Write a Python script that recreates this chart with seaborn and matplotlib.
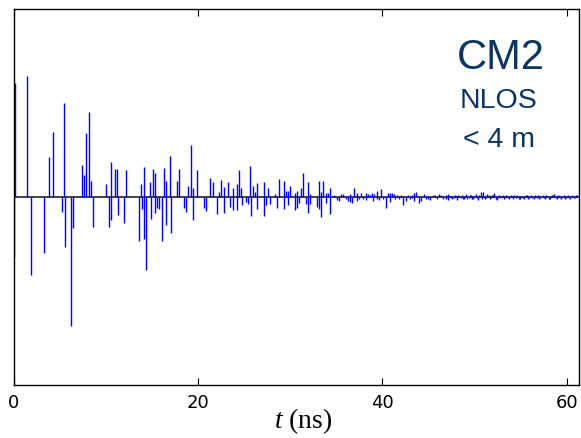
import numpy as np
import pandas as pd
import matplotlib
matplotlib.use("Agg")
import matplotlib.pyplot as plt
import seaborn as sns

# Impulse response: arrival times (ns) and amplitudes (arbitrary units)
times_early = [0.00, 0.14, 1.41, 1.91, 3.32, 3.80, 4.30, 5.24, 5.49, 5.52, 6.18, 6.43,
               7.38, 7.66, 7.88, 8.14, 8.35, 8.60, 10.05, 10.31, 10.52, 10.55, 11.02,
               11.24, 11.27, 11.97, 12.22, 13.63, 13.84, 13.87, 14.10, 14.13, 14.35,
               14.82, 14.85, 15.08, 15.33, 15.36, 15.58, 15.80, 16.06, 16.31, 16.52,
               16.55, 16.99, 17.02, 17.72, 17.97, 18.44, 18.69, 18.94, 19.20, 19.42,
               19.45, 19.89]
amps_early = [-60, 114, 121, -78, -56, 40, 65, -15, 94, -50, -129, -31,
              32, 22, 64, 85, 16, -30, 13, -30, 35, -23, 28,
              28, -18, -26, 27, -44, 13, -12, 30, -42, -73,
              15, -22, 28, 24, -16, -11, -12, -44, 29, 16,
              -28, 41, -36, 16, 28, -11, -15, 11, 52, 9,
              -23, 27]

times_mid = [20.65, 20.86, 21.33, 21.59, 22.06, 22.31, 22.52, 22.78, 22.81, 23.28,
             23.50, 23.76, 23.79, 24.23, 24.26, 24.48, 24.69, 24.72, 25.20, 25.42,
             25.67, 25.70, 25.93, 26.14, 26.40, 26.43, 27.12, 27.15, 27.34, 27.59,
             27.84, 28.32, 28.57, 28.78, 29.29, 29.32, 29.51, 29.76, 29.79, 29.98,
             30.49, 30.52, 30.74, 30.77, 30.95, 31.20, 31.42, 31.68, 31.90, 31.93,
             32.15, 32.18, 32.87, 33.09, 33.12, 33.34, 33.37, 33.59, 33.85, 33.88,
             34.10, 34.32, 34.35]
amps_mid = [-11, -14, 19, 15, -17, 5, 17, 10, -16, 15,
            -10, 9, -13, 13, -13, 27, 9, -8, -5, -7,
            31, -19, 11, 5, 14, -12, 15, -19, -8, 9,
            -7, 3, -11, 18, 16, -12, 6, 6, -8, 11,
            4, -13, 6, -11, -6, 9, 24, -7, 15, -16,
            3, -7, -10, 16, -12, 5, -20, 16, 4, -6,
            4, 9, -17]

times_late = [34.80, 35.05, 35.29, 35.51, 35.76, 36.00, 36.24, 36.49, 36.52, 36.74,
              36.95, 37.21, 37.24, 37.46, 37.68, 37.93, 38.19, 38.22, 38.41, 38.65,
              38.91, 38.94, 39.13, 39.38, 39.41, 39.62, 39.85, 40.10, 40.36, 40.58,
              40.83, 40.86, 41.08, 41.29, 41.32, 41.55, 41.80, 41.83, 42.05, 42.27,
              42.53, 42.78, 43.00, 43.18, 43.21, 43.43, 43.46, 43.68, 43.97, 44.22,
              44.48, 44.72, 44.95, 44.98, 45.20, 45.45, 45.68, 45.92, 46.15, 46.39,
              46.62, 46.87, 46.90, 47.09, 47.12, 47.34]
amps_late = [2, -3, -4, 3, 3, -2, -4, 3, -5, -6,
             9, 4, -4, -2, 4, -2, 4, -3, 3, 2,
             4, -4, 3, 6, -2, -3, 8, -2, -11, 4,
             4, -5, 4, 3, -2, 2, 1, -2, 2, -8,
             -4, 2, -2, 2, -1, 4, -4, 5, -6, -4,
             3, -2, 1, -2, -3, 2, 2, -2, 3, 2,
             -2, 2, -2, 3, -3, 1]

times_tail = [47.48, 47.60, 47.73, 47.85, 47.98, 48.10, 48.23, 48.35, 48.48, 48.60,
              48.73, 48.85, 48.98, 49.10, 49.23, 49.35, 49.48, 49.60, 49.73, 49.85,
              49.98, 50.10, 50.23, 50.35, 50.50, 50.67, 50.80, 50.90, 51.03, 51.15,
              51.28, 51.40, 51.53, 51.65, 51.78, 51.90, 52.03, 52.15, 52.28, 52.40,
              52.53, 52.65, 52.78, 52.90, 53.03, 53.15, 53.28, 53.40, 53.53, 53.65,
              53.78, 53.90, 54.03, 54.15, 54.28, 54.40, 54.53, 54.65, 54.78, 54.90,
              55.03, 55.15, 55.28, 55.40, 55.53, 55.65, 55.78, 55.90, 56.03, 56.15,
              56.28, 56.40, 56.53, 56.65, 56.78, 56.90, 57.03, 57.15, 57.28, 57.40,
              57.53, 57.65, 57.78, 57.90, 58.03, 58.15, 58.28, 58.40, 58.53, 58.65,
              58.78, 58.90, 59.03, 59.15, 59.28, 59.40, 59.53, 59.65, 59.78, 59.90,
              60.03, 60.15, 60.28, 60.40, 60.53, 60.65, 60.78, 60.90, 61.03, 61.15]
amps_tail = [1, -2, -1, 2, 1, -3, 2, 1, -1, 2,
             -2, -2, 1, 3, -2, -1, 2, 2, -2, -2,
             1, 3, -1, -3, 2, 5, -2, 5, 1, -2,
             -1, 3, 2, -2, -1, 2, 2, 4, -2, -3,
             1, 2, -1, 1, 2, -2, -1, 2, 1, -1,
             -2, 2, 1, -2, 2, 1, -1, 2, -2, -2,
             1, 1, -1, -2, 2, 2, -2, -1, 1, 2,
             -1, -2, 2, 1, -1, 2, -2, -1, 1, 2,
             -1, -2, 2, 1, -2, -2, 1, 2, 2, 3,
             -1, -2, 2, 1, -1, -2, 1, 2, -2, -1,
             1, 2, -1, -2, 2, 1, -1, -1, 2, 2]

times = times_early + times_mid + times_late + times_tail
amps = amps_early + amps_mid + amps_late + amps_tail
df = pd.DataFrame({"t": times, "h": amps})

x_ticks = [0, 20, 40, 60]
labels_box = ["CM2", "NLOS", "< 4 m"]

sns.set_theme(style="ticks")
plt.rcParams["font.family"] = ["DejaVu Sans"]
plt.rcParams["mathtext.fontset"] = "custom"
plt.rcParams["mathtext.it"] = "Liberation Serif:italic"
plt.rcParams["mathtext.rm"] = "Liberation Serif"

fig = plt.figure(figsize=(5.81, 4.39), dpi=100)
ax = fig.add_axes([13.7 / 581, 53 / 439, (579.3 - 13.7) / 581, 376 / 439])

ax.axhline(0, color="#333333", lw=1.3, zorder=1)
ax.vlines(df["t"], 0, df["h"], colors="blue", lw=1.0, zorder=2)

ax.set_xlim(0, 61.36)
ax.set_ylim(-188, 188)
ax.set_yticks([])
ax.set_xticks(x_ticks)
ax.tick_params(axis="x", direction="in", top=True, bottom=True, length=5,
               width=0.8, labelsize=13, pad=6, colors="black")
for s in ax.spines.values():
    s.set_color("black")
    s.set_linewidth(1.0)

ax.set_xlabel(r"$t$ (ns)", fontsize=20, fontfamily="Liberation Serif", color="black")
ax.xaxis.set_label_coords((303 - 13.7) / (579.3 - 13.7), -0.055)

navy = "#0c3565"
ax.text((501 - 13.7) / 565.6, (386 - 58) / 376, labels_box[0], transform=ax.transAxes,
        ha="center", va="center", fontsize=30, color=navy, fontfamily="Liberation Sans")
ax.text((499 - 13.7) / 565.6, (386 - 101) / 376, labels_box[1], transform=ax.transAxes,
        ha="center", va="center", fontsize=20.5, color=navy, fontfamily="Liberation Sans")
ax.text((499.5 - 13.7) / 565.6, (386 - 140) / 376, labels_box[2], transform=ax.transAxes,
        ha="center", va="center", fontsize=20.5, color=navy, fontfamily="Liberation Sans")

fig.savefig("out.png", dpi=100)
